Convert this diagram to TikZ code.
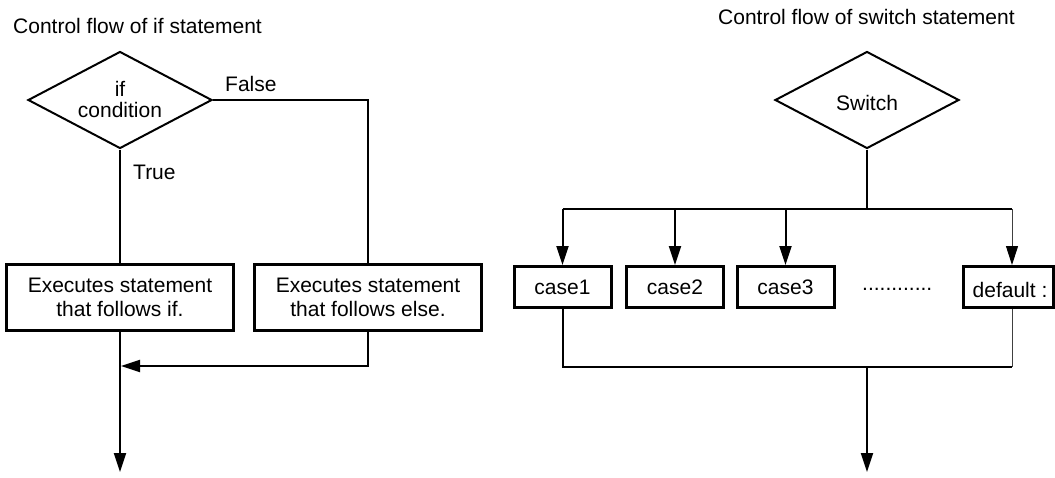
\documentclass[tikz,border=0pt]{standalone}
\usepackage{fontspec}
\setmainfont{Liberation Sans}
\usetikzlibrary{shapes.geometric,arrows.meta}
\begin{document}
\begin{tikzpicture}[x=1pt,y=-1pt,
  txt/.style={font=\fontsize{21}{24}\selectfont, text=black, inner sep=0pt, align=center},
  decision/.style={diamond, draw, line width=2pt, aspect=1.9, inner sep=0pt,
                   minimum width=184pt, minimum height=97pt},
  stepbox/.style={draw, line width=3pt, minimum width=227pt, minimum height=66pt,
                  inner sep=0pt, align=center, font=\fontsize{21}{24}\selectfont},
  casebox/.style={draw, line width=3pt, minimum width=97pt, minimum height=41pt,
                  inner sep=0pt, font=\fontsize{21}{24}\selectfont},
  flow/.style={line width=2pt},
  thinflow/.style={line width=1pt, draw=black!75},
  tip/.style={-{Triangle[length=19pt,width=12pt,black]}},
]
\useasboundingbox (0,0) rectangle (1055,477);

% ---------- if statement ----------
\node[txt, anchor=base west] (title1) at (13,33) {Control flow of if statement};
\node[decision] (d1) at (120,100) {};
\node[txt, font=\fontsize{21}{20.6}\selectfont] (d1t) at (120,99.5) {if\\condition};
\node[txt, anchor=base west] (false) at (225,91) {False};
\node[txt, anchor=base west] (true) at (133,179) {True};
\node[stepbox] (b1) at (120,297) {Executes statement\\that follows if.};
\node[stepbox] (b2) at (368,297) {Executes statement\\that follows else.};
\coordinate (join) at (120,366);
\coordinate (end1) at (120,472);

\draw[flow] (d1.south) -- (b1.north);
\draw[flow] (d1.east) -| (b2.north);
\draw[flow, tip, shorten >=1pt] (b2.south) |- (join);
\draw[flow, tip] (b1.south) -- (end1);

% ---------- switch statement ----------
\node[txt, anchor=base west] (title2) at (718,24) {Control flow of switch statement};
\node[decision] (d2) at (867,100) {};
\node[txt] (d2t) at (867,103.4) {Switch};
\node[casebox] (c1) at (562.5,287) {case1};
\node[casebox] (c2) at (675,287) {case2};
\node[casebox] (c3) at (785.5,287) {case3};
\node[casebox, minimum width=90pt] (c4) at (1008,287) {};
\node[txt] (c4t) at (1010,290) {default :};
\node[txt, anchor=base west] (dots) at (862,290) {............};

\coordinate (bus) at (867,209);
\coordinate (busL) at (562.5,209);
\coordinate (busR) at (1012,209);
\coordinate (bot) at (867,367);
\coordinate (botR) at (1012,367);
\coordinate (end2) at (867,472);

\draw[flow] (d2.south) -- (bus);
\draw[flow] (busL) -- (busR);
\draw[flow, tip] (busL) -- (c1.north);
\draw[flow, tip] (c2.north |- bus) -- (c2.north);
\draw[flow, tip] (c3.north |- bus) -- (c3.north);
\draw[thinflow, tip] (busR) -- (busR |- c4.north);
\draw[flow] (c1.south) |- (botR);
\draw[thinflow] (busR |- c4.south) -- (botR);
\draw[flow, tip] (bot) -- (end2);
\end{tikzpicture}
\end{document}
